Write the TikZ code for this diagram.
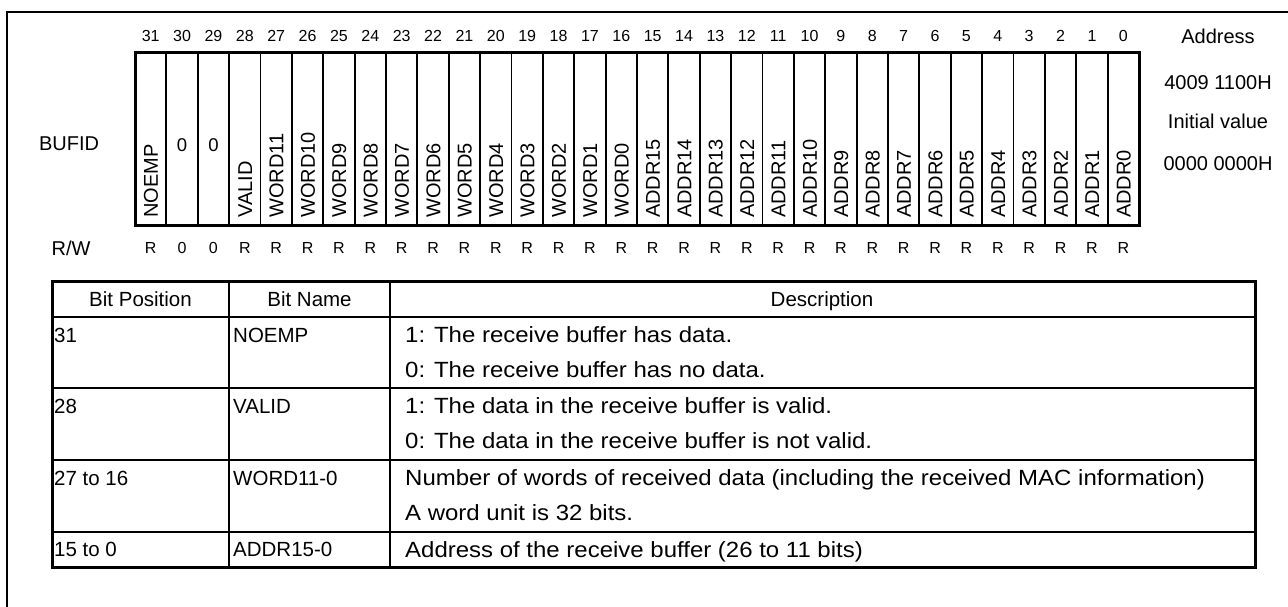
\documentclass[tikz,border=0pt]{standalone}
\usepackage{fontspec}
\setmainfont{Liberation Sans}
\newfontfamily\descfont{Liberation Sans}[FakeStretch=1.09]
\begin{document}
\begin{tikzpicture}[x=1pt,y=-1pt,
  outerframe/.style={line width=2pt},
  regbox/.style={line width=3pt},
  cellsep/.style={line width=1.8pt},
  tabborder/.style={line width=3pt},
  tabhead/.style={line width=2.6pt},
  tabrow/.style={line width=1.6pt},
  tabcol/.style={line width=1.9pt},
  bitnum/.style={font=\fontsize{16}{18}\selectfont, inner sep=0pt, anchor=base},
  sidetext/.style={font=\fontsize{20}{24}\selectfont, inner sep=0pt, anchor=base},
  reserved/.style={font=\fontsize{18.5}{22}\selectfont, inner sep=0pt, anchor=base},
  fieldname/.style={font=\fontsize{20}{24}\selectfont, inner sep=0pt, rotate=90, anchor=base west},
  tabtxt/.style={font=\fontsize{20.5}{24}\selectfont, inner sep=0pt, anchor=base west},
  desctxt/.style={font=\descfont\fontsize{22}{26}\selectfont, inner sep=0pt, anchor=base west},
  tabhd/.style={font=\fontsize{20.5}{24}\selectfont, inner sep=0pt, anchor=base}]
\useasboundingbox (0,0) rectangle (1288,607);

% open frame around the register description
\draw[outerframe] (7,607) -- (7,12) -- (1290,12);

% register: 32 one-bit cells
\def\cw{31.375}
\draw[regbox] (135,53) rectangle (1139,225);
\foreach \i in {1,...,31}
  \draw[cellsep] ({135+\i*\cw},53) -- ({135+\i*\cw},225);

% bit numbers and access types
\foreach \b/\rw in {31/R,30/0,29/0,28/R,27/R,26/R,25/R,24/R,23/R,22/R,21/R,20/R,
                    19/R,18/R,17/R,16/R,15/R,14/R,13/R,12/R,11/R,10/R,9/R,8/R,
                    7/R,6/R,5/R,4/R,3/R,2/R,1/R,0/R} {
  \pgfmathsetmacro{\cx}{135+(31-\b+0.5)*\cw}
  \node[bitnum] (bn\b) at (\cx,41.7) {\b};
  \node[bitnum] (rw\b) at (\cx,253.7) {\rw};
}

% field names, written upwards from the bottom of each cell
\foreach \b/\t in {31/NOEMP,28/VALID,27/WORD11,26/WORD10,25/WORD9,24/WORD8,
                   23/WORD7,22/WORD6,21/WORD5,20/WORD4,19/WORD3,18/WORD2,
                   17/WORD1,16/WORD0,15/ADDR15,14/ADDR14,13/ADDR13,12/ADDR12,
                   11/ADDR11,10/ADDR10,9/ADDR9,8/ADDR8,7/ADDR7,6/ADDR6,5/ADDR5,
                   4/ADDR4,3/ADDR3,2/ADDR2,1/ADDR1,0/ADDR0} {
  \pgfmathsetmacro{\cx}{135+(31-\b+0.5)*\cw+7.2}
  \node[fieldname] (fn\b) at (\cx,218) {\t};
}
% reserved bits
\foreach \b in {30,29} {
  \pgfmathsetmacro{\cx}{135+(31-\b+0.5)*\cw}
  \node[reserved] (fn\b) at (\cx,151.6) {0};
}

% register name, access row label, address and initial value
\node[sidetext] (regname) at (69,150.2) {BUFID};
\node[sidetext] (rwlabel) at (71,255.2) {R/W};
\node[sidetext] (addrhd)  at (1218,43.2) {Address};
\node[sidetext] (addrval) at (1218,89.2) {4009 1100H};
\node[sidetext] (inithd)  at (1218,128.2) {Initial value};
\node[sidetext] (initval) at (1218,170.2) {0000 0000H};

% bit description table
\draw[tabborder] (52,281) rectangle (1255,567);
\draw[tabhead] (52,317) -- (1255,317);
\foreach \y in {388,460,532}
  \draw[tabrow] (52,\y) -- (1255,\y);
\draw[tabcol] (229,281) -- (229,567);
\draw[tabcol] (390,281) -- (390,567);

\node[tabhd] (hpos)  at (140.5,306.3) {Bit Position};
\node[tabhd] (hname) at (309.5,306.3) {Bit Name};
\node[tabhd] (hdesc) at (822,306.3) {Description};

\node[tabtxt] (p1) at (54,342.3) {31};
\node[tabtxt] (n1) at (233,342.3) {NOEMP};
\node[desctxt] (d1a) at (405,342.8) {1: The receive buffer has data.};
\node[desctxt] (d1b) at (405,377.8) {0: The receive buffer has no data.};

\node[tabtxt] (p2) at (54,413.3) {28};
\node[tabtxt] (n2) at (233,413.3) {VALID};
\node[desctxt] (d2a) at (405,413.8) {1: The data in the receive buffer is valid.};
\node[desctxt] (d2b) at (405,448.8) {0: The data in the receive buffer is not valid.};

\node[tabtxt] (p3) at (54,485.3) {27 to 16};
\node[tabtxt] (n3) at (233,485.3) {WORD11-0};
\node[desctxt] (d3a) at (405,485.8) {Number of words of received data (including the received MAC information)};
\node[desctxt] (d3b) at (405,520.8) {A word unit is 32 bits.};

\node[tabtxt] (p4) at (54,556.8) {15 to 0};
\node[tabtxt] (n4) at (233,556.8) {ADDR15-0};
\node[desctxt] (d4a) at (405,557.3) {Address of the receive buffer (26 to 11 bits)};
\end{tikzpicture}
\end{document}
